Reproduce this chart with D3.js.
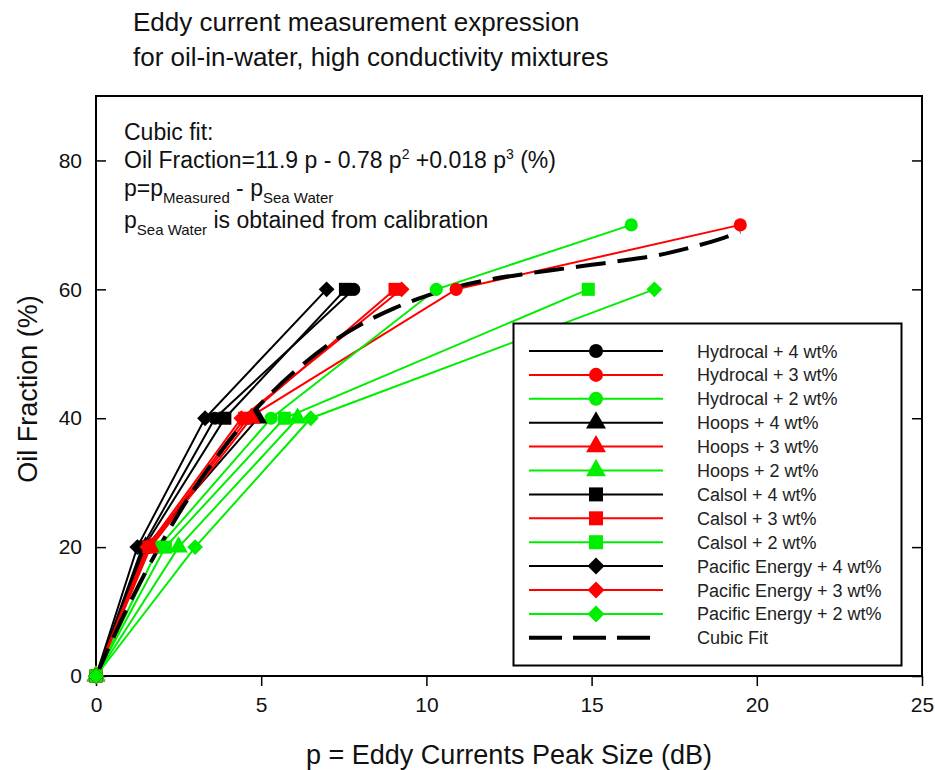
<!DOCTYPE html>
<html lang="en">
<head>
    <meta charset="UTF-8">
    <title>Eddy current measurement expression</title>
    <script src="https://d3js.org/d3.v7.min.js"></script>
    <style>
        body {
            margin: 0;
            background: #fff;
            font-family: Arial, "Liberation Sans", sans-serif;
        }
        .tick text {
            font-size: 21px;
            fill: #111;
        }
        .legend text {
            font-size: 18px;
            fill: #222;
        }
    </style>
</head>
<body>
<script>
    // Data: [p (dB), oil fraction (%)]
    const xTicks = [0, 5, 10, 15, 20, 25];
    const yTicks = [0, 20, 40, 60, 80];

    const hydrocal4 = [[0, 0], [1.4, 20], [3.6, 40], [7.8, 60]];
    const hydrocal3 = [[0, 0], [1.6, 20], [4.6, 40], [10.9, 60], [19.5, 70]];
    const hydrocal2 = [[0, 0], [1.9, 20], [5.3, 40], [10.3, 60], [16.2, 70]];
    const hoops4 = [[0, 0], [1.5, 20], [4.9, 40]];
    const hoops3 = [[0, 0], [1.65, 20], [4.7, 40]];
    const hoops2 = [[0, 0], [2.5, 20], [6.1, 40]];
    const calsol4 = [[0, 0], [1.45, 20], [3.9, 40], [7.55, 60]];
    const calsol3 = [[0, 0], [1.6, 20], [4.5, 40], [9.05, 60]];
    const calsol2 = [[0, 0], [2.1, 20], [5.7, 40], [14.9, 60]];
    const pacific4 = [[0, 0], [1.25, 20], [3.3, 40], [6.98, 60]];
    const pacific3 = [[0, 0], [1.55, 20], [4.4, 40], [9.25, 60]];
    const pacific2 = [[0, 0], [3.0, 20], [6.5, 40], [16.9, 60]];

    // Cubic fit curve
    const fitP = [0, 1, 2, 3, 4, 5, 6, 7, 8, 9, 10, 11, 12, 13, 14, 15, 16, 17, 18, 19, 19.5];
    const fitOil = [0, 11.1, 20.8, 29.2, 36.3, 42.3, 47.2, 51.3, 54.5, 57.0, 59.0, 60.5, 61.6, 62.4, 63.1, 63.8, 64.5, 65.3, 66.5, 68.0, 68.9];

    const series = [
        { name: "Hydrocal + 4 wt%", data: hydrocal4, color: "#000000", shape: "circle" },
        { name: "Hydrocal + 3 wt%", data: hydrocal3, color: "#ff0000", shape: "circle" },
        { name: "Hydrocal + 2 wt%", data: hydrocal2, color: "#00ee00", shape: "circle" },
        { name: "Hoops + 4 wt%", data: hoops4, color: "#000000", shape: "triangle" },
        { name: "Hoops + 3 wt%", data: hoops3, color: "#ff0000", shape: "triangle" },
        { name: "Hoops + 2 wt%", data: hoops2, color: "#00ee00", shape: "triangle" },
        { name: "Calsol + 4 wt%", data: calsol4, color: "#000000", shape: "square" },
        { name: "Calsol + 3 wt%", data: calsol3, color: "#ff0000", shape: "square" },
        { name: "Calsol + 2 wt%", data: calsol2, color: "#00ee00", shape: "square" },
        { name: "Pacific Energy + 4 wt%", data: pacific4, color: "#000000", shape: "diamond" },
        { name: "Pacific Energy + 3 wt%", data: pacific3, color: "#ff0000", shape: "diamond" },
        { name: "Pacific Energy + 2 wt%", data: pacific2, color: "#00ee00", shape: "diamond" }
    ];

    const width = 935;
    const height = 770;
    const margin = { top: 96, right: 13, bottom: 94, left: 96 };

    const svg = d3.select("body").append("svg")
        .attr("width", width)
        .attr("height", height);

    const x = d3.scaleLinear().domain([0, 25]).range([margin.left, width - margin.right]);
    const y = d3.scaleLinear().domain([0, 90]).range([height - margin.bottom, margin.top]);

    // symbol generators
    const symbolPath = (shape, big) => {
        const k = big ? 1.15 : 1;
        if (shape === "circle") return d3.symbol(d3.symbolCircle, 135 * k)();
        if (shape === "square") return d3.symbol(d3.symbolSquare, 170 * k)();
        if (shape === "triangle") return d3.symbol(d3.symbolTriangle, 150 * k)();
        return d3.symbol(d3.symbolSquare, 125 * k)();
    };
    const rot = shape => shape === "diamond" ? " rotate(45)" : "";

    // Title
    const title = svg.append("text")
        .attr("x", 133)
        .attr("y", 31)
        .style("font-size", "26px")
        .style("fill", "#111");
    title.append("tspan").attr("x", 133).text("Eddy current measurement expression");
    title.append("tspan").attr("x", 133).attr("dy", 35).text("for oil-in-water, high conductivity mixtures");

    // Axes
    svg.append("g")
        .attr("transform", `translate(0,${y(0)})`)
        .call(d3.axisBottom(x).tickValues(xTicks).tickSizeInner(10).tickSizeOuter(0).tickPadding(11))
        .call(g => g.select(".domain").remove())
        .call(g => g.selectAll(".tick line").attr("stroke-width", 1.5));

    svg.append("g")
        .attr("transform", `translate(${x(0)},0)`)
        .call(d3.axisLeft(y).tickValues(yTicks).tickSizeInner(-10).tickSizeOuter(0).tickPadding(14))
        .call(g => g.select(".domain").remove())
        .call(g => g.selectAll(".tick line").attr("stroke-width", 1.5));

    svg.append("g")
        .attr("transform", `translate(${x(25)},0)`)
        .call(d3.axisRight(y).tickValues(yTicks).tickSizeInner(-10).tickSizeOuter(0).tickFormat(""))
        .call(g => g.select(".domain").remove())
        .call(g => g.selectAll(".tick line").attr("stroke-width", 1.5));

    svg.append("rect")
        .attr("x", x(0))
        .attr("y", y(90))
        .attr("width", x(25) - x(0))
        .attr("height", y(0) - y(90))
        .attr("fill", "none")
        .attr("stroke", "#000")
        .attr("stroke-width", 2);

    // Axis titles
    svg.append("text")
        .attr("x", 509)
        .attr("y", 764)
        .attr("text-anchor", "middle")
        .style("font-size", "27px")
        .style("fill", "#111")
        .text("p = Eddy Currents Peak Size (dB)");

    svg.append("text")
        .attr("transform", "translate(37,389) rotate(-90)")
        .attr("text-anchor", "middle")
        .style("font-size", "27px")
        .style("fill", "#111")
        .text("Oil Fraction (%)");

    // Annotation
    const note = svg.append("g").style("font-size", "23px").style("fill", "#111");
    note.append("text").attr("x", 124).attr("y", 140).text("Cubic fit:");
    const l2 = note.append("text").attr("x", 124).attr("y", 168);
    l2.append("tspan").text("Oil Fraction=11.9 p - 0.78 p");
    l2.append("tspan").attr("dy", -9).style("font-size", "14px").text("2");
    l2.append("tspan").attr("dy", 9).text(" +0.018 p");
    l2.append("tspan").attr("dy", -9).style("font-size", "14px").text("3");
    l2.append("tspan").attr("dy", 9).text(" (%)");
    const l3 = note.append("text").attr("x", 124).attr("y", 196);
    l3.append("tspan").text("p=p");
    l3.append("tspan").attr("dy", 7).style("font-size", "15px").text("Measured");
    l3.append("tspan").attr("dy", -7).text(" - p");
    l3.append("tspan").attr("dy", 7).style("font-size", "15px").text("Sea Water");
    const l4 = note.append("text").attr("x", 124).attr("y", 228);
    l4.append("tspan").text("p");
    l4.append("tspan").attr("dy", 7).style("font-size", "15px").text("Sea Water");
    l4.append("tspan").attr("dy", -7).text(" is obtained from calibration");

    // Series lines
    const line = d3.line().x(d => x(d[0])).y(d => y(d[1]));

    const plot = svg.append("g");
    series.forEach(s => {
        plot.append("path")
            .datum(s.data)
            .attr("d", line)
            .attr("fill", "none")
            .attr("stroke", s.color)
            .attr("stroke-width", 2);
    });

    // Cubic fit (dashed)
    const fitData = fitP.map((p, i) => [p, fitOil[i]]);
    plot.append("path")
        .datum(fitData)
        .attr("d", d3.line().x(d => x(d[0])).y(d => y(d[1])).curve(d3.curveMonotoneX))
        .attr("fill", "none")
        .attr("stroke", "#000")
        .attr("stroke-width", 4)
        .attr("stroke-dasharray", "30,12");

    // Markers
    series.forEach(s => {
        plot.selectAll(null)
            .data(s.data)
            .enter()
            .append("path")
            .attr("d", symbolPath(s.shape))
            .attr("transform", d => `translate(${x(d[0])},${y(d[1])})${rot(s.shape)}`)
            .attr("fill", s.color);
    });

    // Legend
    const legend = svg.append("g").attr("class", "legend");
    legend.append("rect")
        .attr("x", 513.5)
        .attr("y", 323.5)
        .attr("width", 388)
        .attr("height", 342)
        .attr("fill", "#fff")
        .attr("stroke", "#000")
        .attr("stroke-width", 2);

    const rowY = i => 351 + i * 23.9;
    series.forEach((s, i) => {
        const g = legend.append("g").attr("transform", `translate(0,${rowY(i)})`);
        g.append("line").attr("x1", 529).attr("x2", 663).attr("stroke", s.color).attr("stroke-width", 2);
        g.append("path")
            .attr("d", symbolPath(s.shape, true))
            .attr("transform", `translate(596,0)${rot(s.shape)}`)
            .attr("fill", s.color);
        g.append("text").attr("x", 697).attr("y", 6.5).text(s.name);
    });
    const fitRow = legend.append("g").attr("transform", `translate(0,${rowY(12)})`);
    fitRow.append("line")
        .attr("x1", 529).attr("x2", 651)
        .attr("stroke", "#000").attr("stroke-width", 4)
        .attr("stroke-dasharray", "33,11");
    fitRow.append("text").attr("x", 697).attr("y", 6.5).text("Cubic Fit");
</script>
</body>
</html>
